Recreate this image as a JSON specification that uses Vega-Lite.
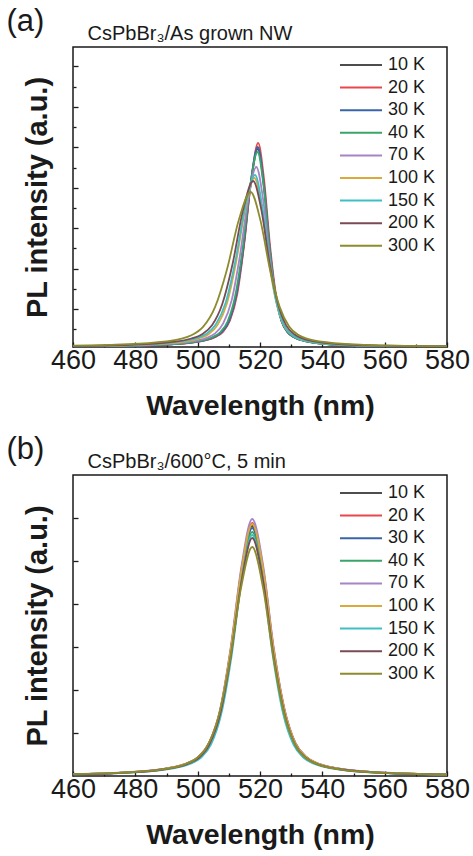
{
"$schema": "https://vega.github.io/schema/vega-lite/v6.json",
"background": "white",
"padding": {"left": 5, "top": 4, "right": 0, "bottom": 0},
"spacing": 11,
"config": {
  "view": {"stroke": "#1a1a1a", "strokeWidth": 1.5},
  "font": "Liberation Sans",
  "axis": {"grid": false, "domain": false, "labelFont": "Liberation Sans", "titleFont": "Liberation Sans", "tickColor": "#1a1a1a", "tickWidth": 1.3, "labelColor": "#1a1a1a", "titleColor": "#1a1a1a", "labelFlush": false, "labelOverlap": false, "labelBound": false},
  "legend": {"orient": "none", "legendX": 266, "legendY": 8, "title": null, "symbolType": "stroke", "symbolSize": 1764, "symbolStrokeWidth": 2, "labelFontSize": 18, "labelFont": "Liberation Sans", "labelColor": "#1a1a1a", "padding": 0, "labelOffset": 5, "clipHeight": 20, "rowPadding": 2.6}
},
"resolve": {"legend": {"color": "independent"}, "scale": {"color": "independent"}},
"datasets": {
"a": [
{"T":"10 K","x":460,"y":0.6},{"T":"10 K","x":482.5,"y":1.5},{"T":"10 K","x":491.7,"y":2.7},{"T":"10 K","x":500.9,"y":5.8},{"T":"10 K","x":505.5,"y":10.1},{"T":"10 K","x":507.8,"y":14.9},{"T":"10 K","x":510.1,"y":25.9},{"T":"10 K","x":512.4,"y":51.3},{"T":"10 K","x":514.7,"y":99},{"T":"10 K","x":517.0,"y":162.4},{"T":"10 K","x":519.3,"y":198},{"T":"10 K","x":521.2,"y":162.4},{"T":"10 K","x":523.1,"y":99},{"T":"10 K","x":525.0,"y":51.3},{"T":"10 K","x":526.9,"y":25.9},{"T":"10 K","x":528.8,"y":14.9},{"T":"10 K","x":530.7,"y":10.1},{"T":"10 K","x":534.5,"y":5.8},{"T":"10 K","x":542.1,"y":2.7},{"T":"10 K","x":549.7,"y":1.5},{"T":"10 K","x":580,"y":0.4},
{"T":"20 K","x":460,"y":0.6},{"T":"20 K","x":483.4,"y":1.6},{"T":"20 K","x":492.4,"y":2.8},{"T":"20 K","x":501.4,"y":6.0},{"T":"20 K","x":505.9,"y":10.4},{"T":"20 K","x":508.2,"y":15.4},{"T":"20 K","x":510.4,"y":26.7},{"T":"20 K","x":512.7,"y":52.8},{"T":"20 K","x":514.9,"y":102},{"T":"20 K","x":517.2,"y":167.3},{"T":"20 K","x":519.4,"y":204},{"T":"20 K","x":521.3,"y":167.3},{"T":"20 K","x":523.2,"y":102},{"T":"20 K","x":525.1,"y":52.8},{"T":"20 K","x":527.0,"y":26.7},{"T":"20 K","x":528.9,"y":15.4},{"T":"20 K","x":530.8,"y":10.4},{"T":"20 K","x":534.6,"y":6.0},{"T":"20 K","x":542.2,"y":2.8},{"T":"20 K","x":549.8,"y":1.6},{"T":"20 K","x":580,"y":0.4},
{"T":"30 K","x":460,"y":0.6},{"T":"30 K","x":482.5,"y":1.5},{"T":"30 K","x":491.7,"y":2.7},{"T":"30 K","x":500.9,"y":5.9},{"T":"30 K","x":505.5,"y":10.2},{"T":"30 K","x":507.8,"y":15.1},{"T":"30 K","x":510.1,"y":26.2},{"T":"30 K","x":512.4,"y":51.8},{"T":"30 K","x":514.7,"y":100},{"T":"30 K","x":517.0,"y":164},{"T":"30 K","x":519.3,"y":200},{"T":"30 K","x":521.2,"y":164},{"T":"30 K","x":523.1,"y":100},{"T":"30 K","x":525.0,"y":51.8},{"T":"30 K","x":526.9,"y":26.2},{"T":"30 K","x":528.8,"y":15.1},{"T":"30 K","x":530.7,"y":10.2},{"T":"30 K","x":534.5,"y":5.9},{"T":"30 K","x":542.1,"y":2.7},{"T":"30 K","x":549.7,"y":1.5},{"T":"30 K","x":580,"y":0.4},
{"T":"40 K","x":460,"y":0.6},{"T":"40 K","x":480.8,"y":1.5},{"T":"40 K","x":490.4,"y":2.6},{"T":"40 K","x":500.0,"y":5.7},{"T":"40 K","x":504.8,"y":9.9},{"T":"40 K","x":507.2,"y":14.7},{"T":"40 K","x":509.6,"y":25.5},{"T":"40 K","x":512.0,"y":50.5},{"T":"40 K","x":514.4,"y":97.5},{"T":"40 K","x":516.8,"y":159.9},{"T":"40 K","x":519.2,"y":195},{"T":"40 K","x":521.2,"y":159.9},{"T":"40 K","x":523.1,"y":97.5},{"T":"40 K","x":525.1,"y":50.5},{"T":"40 K","x":527.0,"y":25.5},{"T":"40 K","x":529.0,"y":14.7},{"T":"40 K","x":530.9,"y":9.9},{"T":"40 K","x":534.8,"y":5.7},{"T":"40 K","x":542.6,"y":2.6},{"T":"40 K","x":550.4,"y":1.5},{"T":"40 K","x":580,"y":0.4},
{"T":"70 K","x":460,"y":0.7},{"T":"70 K","x":476.4,"y":1.4},{"T":"70 K","x":487.0,"y":2.4},{"T":"70 K","x":497.6,"y":5.3},{"T":"70 K","x":502.9,"y":9.2},{"T":"70 K","x":505.6,"y":13.6},{"T":"70 K","x":508.2,"y":23.6},{"T":"70 K","x":510.9,"y":46.6},{"T":"70 K","x":513.5,"y":90},{"T":"70 K","x":516.2,"y":147.6},{"T":"70 K","x":518.8,"y":180},{"T":"70 K","x":521.0,"y":147.6},{"T":"70 K","x":523.1,"y":90},{"T":"70 K","x":525.3,"y":46.6},{"T":"70 K","x":527.4,"y":23.6},{"T":"70 K","x":529.6,"y":13.6},{"T":"70 K","x":531.7,"y":9.2},{"T":"70 K","x":536.0,"y":5.3},{"T":"70 K","x":544.6,"y":2.4},{"T":"70 K","x":553.2,"y":1.4},{"T":"70 K","x":580,"y":0.4},
{"T":"100 K","x":460,"y":0.85},{"T":"100 K","x":471.0,"y":1.3},{"T":"100 K","x":482.8,"y":2.3},{"T":"100 K","x":494.6,"y":5.0},{"T":"100 K","x":500.5,"y":8.6},{"T":"100 K","x":503.5,"y":12.8},{"T":"100 K","x":506.4,"y":22.1},{"T":"100 K","x":509.4,"y":43.8},{"T":"100 K","x":512.3,"y":84.5},{"T":"100 K","x":515.3,"y":138.6},{"T":"100 K","x":518.2,"y":169},{"T":"100 K","x":520.6,"y":138.6},{"T":"100 K","x":522.9,"y":84.5},{"T":"100 K","x":525.3,"y":43.8},{"T":"100 K","x":527.6,"y":22.1},{"T":"100 K","x":530.0,"y":12.8},{"T":"100 K","x":532.3,"y":8.6},{"T":"100 K","x":537.0,"y":5.0},{"T":"100 K","x":546.4,"y":2.3},{"T":"100 K","x":555.8,"y":1.3},{"T":"100 K","x":580,"y":0.5},
{"T":"150 K","x":460,"y":1.0},{"T":"150 K","x":468.0,"y":1.3},{"T":"150 K","x":480.6,"y":2.3},{"T":"150 K","x":493.2,"y":5.1},{"T":"150 K","x":499.5,"y":8.8},{"T":"150 K","x":502.7,"y":13.0},{"T":"150 K","x":505.8,"y":22.5},{"T":"150 K","x":509.0,"y":44.5},{"T":"150 K","x":512.1,"y":86},{"T":"150 K","x":515.3,"y":141},{"T":"150 K","x":518.4,"y":172},{"T":"150 K","x":520.7,"y":141},{"T":"150 K","x":523.0,"y":86},{"T":"150 K","x":525.3,"y":44.5},{"T":"150 K","x":527.6,"y":22.5},{"T":"150 K","x":529.9,"y":13.0},{"T":"150 K","x":532.2,"y":8.8},{"T":"150 K","x":536.8,"y":5.1},{"T":"150 K","x":546.0,"y":2.3},{"T":"150 K","x":555.2,"y":1.3},{"T":"150 K","x":580,"y":0.5},
{"T":"200 K","x":460,"y":1.1},{"T":"200 K","x":478.2,"y":2.2},{"T":"200 K","x":491.4,"y":4.9},{"T":"200 K","x":498.0,"y":8.5},{"T":"200 K","x":501.3,"y":12.5},{"T":"200 K","x":504.6,"y":21.7},{"T":"200 K","x":507.9,"y":43},{"T":"200 K","x":511.2,"y":83},{"T":"200 K","x":514.5,"y":136.1},{"T":"200 K","x":517.8,"y":166},{"T":"200 K","x":520.5,"y":136.1},{"T":"200 K","x":523.1,"y":83},{"T":"200 K","x":525.8,"y":43},{"T":"200 K","x":528.4,"y":21.7},{"T":"200 K","x":531.1,"y":12.5},{"T":"200 K","x":533.7,"y":8.5},{"T":"200 K","x":539.0,"y":4.9},{"T":"200 K","x":549.6,"y":2.2},{"T":"200 K","x":560.2,"y":1.3},{"T":"200 K","x":580,"y":0.6},
{"T":"300 K","x":460,"y":1.4},{"T":"300 K","x":471.4,"y":2.1},{"T":"300 K","x":486.6,"y":4.6},{"T":"300 K","x":494.2,"y":7.9},{"T":"300 K","x":498.0,"y":11.7},{"T":"300 K","x":501.8,"y":20.3},{"T":"300 K","x":505.6,"y":40.1},{"T":"300 K","x":509.4,"y":77.5},{"T":"300 K","x":513.2,"y":127.1},{"T":"300 K","x":517.0,"y":155},{"T":"300 K","x":520.1,"y":127.1},{"T":"300 K","x":523.2,"y":77.5},{"T":"300 K","x":526.3,"y":40.1},{"T":"300 K","x":529.4,"y":20.3},{"T":"300 K","x":532.5,"y":11.7},{"T":"300 K","x":535.6,"y":7.9},{"T":"300 K","x":541.8,"y":4.6},{"T":"300 K","x":554.2,"y":2.1},{"T":"300 K","x":566.6,"y":1.2},{"T":"300 K","x":580,"y":0.7}
],
"b": [
{"T":"10 K","x":460,"y":1.8},{"T":"10 K","x":476.1,"y":3.4},{"T":"10 K","x":489.9,"y":7.4},{"T":"10 K","x":496.8,"y":12.8},{"T":"10 K","x":500.3,"y":18.9},{"T":"10 K","x":503.7,"y":32.8},{"T":"10 K","x":507.2,"y":64.8},{"T":"10 K","x":510.6,"y":125},{"T":"10 K","x":514.1,"y":205},{"T":"10 K","x":517.5,"y":250},{"T":"10 K","x":521.0,"y":205},{"T":"10 K","x":524.4,"y":125},{"T":"10 K","x":527.9,"y":64.8},{"T":"10 K","x":531.3,"y":32.8},{"T":"10 K","x":534.8,"y":18.9},{"T":"10 K","x":538.2,"y":12.8},{"T":"10 K","x":545.1,"y":7.4},{"T":"10 K","x":558.9,"y":3.4},{"T":"10 K","x":572.7,"y":1.9},{"T":"10 K","x":580,"y":1.5},
{"T":"20 K","x":460,"y":1.8},{"T":"20 K","x":476.1,"y":3.4},{"T":"20 K","x":489.9,"y":7.4},{"T":"20 K","x":496.8,"y":12.9},{"T":"20 K","x":500.3,"y":19.1},{"T":"20 K","x":503.7,"y":33.1},{"T":"20 K","x":507.2,"y":65.5},{"T":"20 K","x":510.6,"y":126.5},{"T":"20 K","x":514.1,"y":207.5},{"T":"20 K","x":517.5,"y":253},{"T":"20 K","x":521.0,"y":207.5},{"T":"20 K","x":524.4,"y":126.5},{"T":"20 K","x":527.9,"y":65.5},{"T":"20 K","x":531.3,"y":33.1},{"T":"20 K","x":534.8,"y":19.1},{"T":"20 K","x":538.2,"y":12.9},{"T":"20 K","x":545.1,"y":7.4},{"T":"20 K","x":558.9,"y":3.4},{"T":"20 K","x":572.7,"y":1.9},{"T":"20 K","x":580,"y":1.5},
{"T":"30 K","x":460,"y":1.8},{"T":"30 K","x":476.1,"y":3.3},{"T":"30 K","x":489.9,"y":7.3},{"T":"30 K","x":496.8,"y":12.6},{"T":"30 K","x":500.3,"y":18.7},{"T":"30 K","x":503.7,"y":32.5},{"T":"30 K","x":507.2,"y":64.2},{"T":"30 K","x":510.6,"y":124},{"T":"30 K","x":514.1,"y":203.4},{"T":"30 K","x":517.5,"y":248},{"T":"30 K","x":521.0,"y":203.4},{"T":"30 K","x":524.4,"y":124},{"T":"30 K","x":527.9,"y":64.2},{"T":"30 K","x":531.3,"y":32.5},{"T":"30 K","x":534.8,"y":18.7},{"T":"30 K","x":538.2,"y":12.6},{"T":"30 K","x":545.1,"y":7.3},{"T":"30 K","x":558.9,"y":3.3},{"T":"30 K","x":572.7,"y":1.9},{"T":"30 K","x":580,"y":1.5},
{"T":"40 K","x":460,"y":1.7},{"T":"40 K","x":476.1,"y":3.3},{"T":"40 K","x":489.9,"y":7.2},{"T":"40 K","x":496.8,"y":12.4},{"T":"40 K","x":500.3,"y":18.4},{"T":"40 K","x":503.7,"y":32},{"T":"40 K","x":507.2,"y":63.2},{"T":"40 K","x":510.6,"y":122},{"T":"40 K","x":514.1,"y":200.1},{"T":"40 K","x":517.5,"y":244},{"T":"40 K","x":521.0,"y":200.1},{"T":"40 K","x":524.4,"y":122},{"T":"40 K","x":527.9,"y":63.2},{"T":"40 K","x":531.3,"y":32},{"T":"40 K","x":534.8,"y":18.4},{"T":"40 K","x":538.2,"y":12.4},{"T":"40 K","x":545.1,"y":7.2},{"T":"40 K","x":558.9,"y":3.3},{"T":"40 K","x":572.7,"y":1.9},{"T":"40 K","x":580,"y":1.5},
{"T":"70 K","x":460,"y":1.8},{"T":"70 K","x":476.1,"y":3.5},{"T":"70 K","x":489.9,"y":7.6},{"T":"70 K","x":496.8,"y":13.1},{"T":"70 K","x":500.3,"y":19.4},{"T":"70 K","x":503.7,"y":33.7},{"T":"70 K","x":507.2,"y":66.6},{"T":"70 K","x":510.6,"y":128.5},{"T":"70 K","x":514.1,"y":210.7},{"T":"70 K","x":517.5,"y":257},{"T":"70 K","x":521.0,"y":210.7},{"T":"70 K","x":524.4,"y":128.5},{"T":"70 K","x":527.9,"y":66.6},{"T":"70 K","x":531.3,"y":33.7},{"T":"70 K","x":534.8,"y":19.4},{"T":"70 K","x":538.2,"y":13.1},{"T":"70 K","x":545.1,"y":7.6},{"T":"70 K","x":558.9,"y":3.5},{"T":"70 K","x":572.7,"y":2.0},{"T":"70 K","x":580,"y":1.5},
{"T":"100 K","x":460,"y":1.8},{"T":"100 K","x":476.1,"y":3.4},{"T":"100 K","x":489.9,"y":7.4},{"T":"100 K","x":496.8,"y":12.9},{"T":"100 K","x":500.3,"y":19},{"T":"100 K","x":503.7,"y":33},{"T":"100 K","x":507.2,"y":65.3},{"T":"100 K","x":510.6,"y":126},{"T":"100 K","x":514.1,"y":206.6},{"T":"100 K","x":517.5,"y":252},{"T":"100 K","x":521.0,"y":206.6},{"T":"100 K","x":524.4,"y":126},{"T":"100 K","x":527.9,"y":65.3},{"T":"100 K","x":531.3,"y":33},{"T":"100 K","x":534.8,"y":19},{"T":"100 K","x":538.2,"y":12.9},{"T":"100 K","x":545.1,"y":7.4},{"T":"100 K","x":558.9,"y":3.4},{"T":"100 K","x":572.7,"y":1.9},{"T":"100 K","x":580,"y":1.5},
{"T":"150 K","x":460,"y":1.6},{"T":"150 K","x":477.9,"y":3.3},{"T":"150 K","x":491.1,"y":7.1},{"T":"150 K","x":497.7,"y":12.3},{"T":"150 K","x":501.0,"y":18.2},{"T":"150 K","x":504.3,"y":31.6},{"T":"150 K","x":507.6,"y":62.4},{"T":"150 K","x":510.9,"y":120.5},{"T":"150 K","x":514.2,"y":197.6},{"T":"150 K","x":517.5,"y":241},{"T":"150 K","x":520.8,"y":197.6},{"T":"150 K","x":524.1,"y":120.5},{"T":"150 K","x":527.4,"y":62.4},{"T":"150 K","x":530.7,"y":31.6},{"T":"150 K","x":534.0,"y":18.2},{"T":"150 K","x":537.3,"y":12.3},{"T":"150 K","x":543.9,"y":7.1},{"T":"150 K","x":557.1,"y":3.3},{"T":"150 K","x":570.3,"y":1.9},{"T":"150 K","x":580,"y":1.3},
{"T":"200 K","x":460,"y":1.7},{"T":"200 K","x":476.1,"y":3.2},{"T":"200 K","x":489.9,"y":7.0},{"T":"200 K","x":496.8,"y":12.1},{"T":"200 K","x":500.3,"y":18},{"T":"200 K","x":503.7,"y":31.2},{"T":"200 K","x":507.2,"y":61.6},{"T":"200 K","x":510.6,"y":119},{"T":"200 K","x":514.1,"y":195.2},{"T":"200 K","x":517.5,"y":238},{"T":"200 K","x":521.0,"y":195.2},{"T":"200 K","x":524.4,"y":119},{"T":"200 K","x":527.9,"y":61.6},{"T":"200 K","x":531.3,"y":31.2},{"T":"200 K","x":534.8,"y":18},{"T":"200 K","x":538.2,"y":12.1},{"T":"200 K","x":545.1,"y":7.0},{"T":"200 K","x":558.9,"y":3.2},{"T":"200 K","x":572.7,"y":1.8},{"T":"200 K","x":580,"y":1.4},
{"T":"300 K","x":460,"y":1.8},{"T":"300 K","x":474.3,"y":3.1},{"T":"300 K","x":488.7,"y":6.7},{"T":"300 K","x":495.9,"y":11.7},{"T":"300 K","x":499.5,"y":17.3},{"T":"300 K","x":503.1,"y":30},{"T":"300 K","x":506.7,"y":59.3},{"T":"300 K","x":510.3,"y":114.5},{"T":"300 K","x":513.9,"y":187.8},{"T":"300 K","x":517.5,"y":229},{"T":"300 K","x":521.0,"y":187.8},{"T":"300 K","x":524.5,"y":114.5},{"T":"300 K","x":528.0,"y":59.3},{"T":"300 K","x":531.5,"y":30},{"T":"300 K","x":535.0,"y":17.3},{"T":"300 K","x":538.5,"y":11.7},{"T":"300 K","x":545.5,"y":6.7},{"T":"300 K","x":559.5,"y":3.1},{"T":"300 K","x":573.5,"y":1.8},{"T":"300 K","x":580,"y":1.4}
]
},
"vconcat": [
{
  "width": 374, "height": 300,
  "data": {"name": "a"},
  "resolve": {"axis": {"x": "independent", "y": "independent"}},
  "layer": [
    {"mark": {"type": "line", "interpolate": "monotone", "strokeWidth": 1.8, "clip": true},
     "encoding": {
       "x": {"field": "x", "type": "quantitative", "scale": {"domain": [460, 580], "nice": false, "zero": false},
         "axis": {"orient": "bottom", "values": [460, 480, 500, 520, 540, 560, 580], "tickSize": -5, "labelFontSize": 27, "labelPadding": 5, "title": "Wavelength (nm)", "titleFontSize": 28.5, "titleFontWeight": "bold", "titlePadding": 18}},
       "y": {"field": "y", "type": "quantitative", "scale": {"domain": [0, 300], "nice": false, "zero": false},
         "axis": {"orient": "left", "values": [38, 78, 119, 159, 200, 240, 281], "tickSize": -5, "labels": false, "title": "PL intensity (a.u.)", "titleFontSize": 29, "titleFontWeight": "bold", "titlePadding": 20}},
       "color": {"field": "T", "type": "nominal",
         "scale": {"domain": ["10 K", "20 K", "30 K", "40 K", "70 K", "100 K", "150 K", "200 K", "300 K"], "range": ["#4d4d4d", "#e8484c", "#3b64a8", "#3aa46a", "#a584c8", "#d9a93c", "#3fbfc4", "#7a4b55", "#8c8c2e"]},
         "legend": {}}
     }},
    {"mark": {"type": "point", "opacity": 0},
     "encoding": {
       "x": {"field": "x", "type": "quantitative", "scale": {"domain": [460, 580], "nice": false, "zero": false},
         "axis": {"orient": "bottom", "values": [470, 490, 510, 530, 550, 570], "tickSize": -3, "labels": false, "title": null}},
       "y": {"field": "y", "type": "quantitative", "scale": {"domain": [0, 300], "nice": false, "zero": false},
         "axis": {"orient": "left", "values": [18, 58, 99, 139, 179, 220, 260], "tickSize": -3, "labels": false, "title": null}}
     }},
    {"mark": {"type": "point", "opacity": 0},
     "encoding": {
       "x": {"field": "x", "type": "quantitative", "scale": {"domain": [460, 580], "nice": false, "zero": false},
         "axis": {"orient": "top", "ticks": false, "labels": false, "title": "CsPbBr₃/As grown NW", "titleFontSize": 20, "titleFontWeight": "normal", "titleX": 14, "titleY": -8, "titleAlign": "left", "titleBaseline": "alphabetic"}},
       "y": {"field": "y", "type": "quantitative", "scale": {"domain": [0, 300], "nice": false, "zero": false},
         "axis": {"orient": "left", "ticks": false, "labels": false, "title": "(a)", "titleAngle": 0, "titleFontSize": 31, "titleFontWeight": "normal", "titleX": -67, "titleY": -17, "titleAlign": "left", "titleBaseline": "alphabetic"}}
     }}
  ]
},
{
  "width": 374, "height": 301,
  "data": {"name": "b"},
  "resolve": {"axis": {"x": "independent", "y": "independent"}},
  "layer": [
    {"mark": {"type": "line", "interpolate": "monotone", "strokeWidth": 1.8, "clip": true},
     "encoding": {
       "x": {"field": "x", "type": "quantitative", "scale": {"domain": [460, 580], "nice": false, "zero": false},
         "axis": {"orient": "bottom", "values": [460, 480, 500, 520, 540, 560, 580], "tickSize": -5, "labelFontSize": 27, "labelPadding": 5, "title": "Wavelength (nm)", "titleFontSize": 28.5, "titleFontWeight": "bold", "titlePadding": 18}},
       "y": {"field": "y", "type": "quantitative", "scale": {"domain": [0, 301], "nice": false, "zero": false},
         "axis": {"orient": "left", "values": [43, 86, 129, 172, 215, 258], "tickSize": -5, "labels": false, "title": "PL intensity (a.u.)", "titleFontSize": 29, "titleFontWeight": "bold", "titlePadding": 20}},
       "color": {"field": "T", "type": "nominal",
         "scale": {"domain": ["10 K", "20 K", "30 K", "40 K", "70 K", "100 K", "150 K", "200 K", "300 K"], "range": ["#4d4d4d", "#e8484c", "#3b64a8", "#3aa46a", "#a584c8", "#d9a93c", "#3fbfc4", "#7a4b55", "#8c8c2e"]},
         "legend": {}}
     }},
    {"mark": {"type": "point", "opacity": 0},
     "encoding": {
       "x": {"field": "x", "type": "quantitative", "scale": {"domain": [460, 580], "nice": false, "zero": false},
         "axis": {"orient": "bottom", "values": [470, 490, 510, 530, 550, 570], "tickSize": -3, "labels": false, "title": null}}
     }},
    {"mark": {"type": "point", "opacity": 0},
     "encoding": {
       "x": {"field": "x", "type": "quantitative", "scale": {"domain": [460, 580], "nice": false, "zero": false},
         "axis": {"orient": "top", "ticks": false, "labels": false, "title": "CsPbBr₃/600°C, 5 min", "titleFontSize": 20, "titleFontWeight": "normal", "titleX": 14, "titleY": -8, "titleAlign": "left", "titleBaseline": "alphabetic"}},
       "y": {"field": "y", "type": "quantitative", "scale": {"domain": [0, 301], "nice": false, "zero": false},
         "axis": {"orient": "left", "ticks": false, "labels": false, "title": "(b)", "titleAngle": 0, "titleFontSize": 31, "titleFontWeight": "normal", "titleX": -67, "titleY": -17, "titleAlign": "left", "titleBaseline": "alphabetic"}}
     }}
  ]
}
]
}
